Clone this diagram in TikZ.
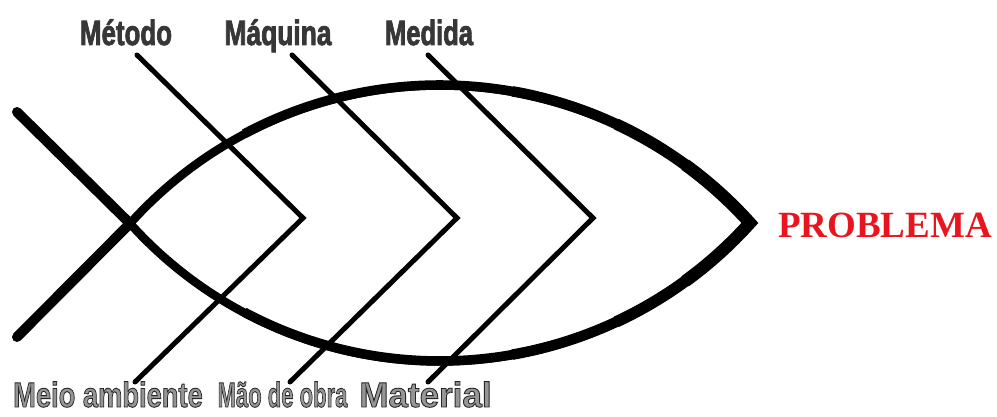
\documentclass[tikz,border=0pt]{standalone}
\usepackage{fontspec}
\usepackage{graphicx}
\newfontfamily\labfont{Liberation Sans}
\newfontfamily\probfont{Liberation Serif}
\definecolor{toplabcol}{RGB}{55,55,55}
\definecolor{botlabcol}{RGB}{150,150,150}
\definecolor{probred}{RGB}{232,20,30}
\newcommand{\hollow}[1]{\special{pdf:literal direct 0.15 G 0.9 w 2 Tr}#1\special{pdf:literal direct 0 Tr}}
\newcommand{\heavy}[1]{\special{pdf:literal direct 0.216 G 0.9 w 2 Tr}#1\special{pdf:literal direct 0 Tr}}
\tikzset{
  fishline/.style={line width=10pt, line cap=round, line join=miter},
  bodyline/.style={line width=#1, line cap=butt, line join=miter},
  boneline/.style={line width=5pt, line cap=round, line join=miter},
  toplab/.style={anchor=base, inner sep=0pt, text=toplabcol,
    font=\labfont\bfseries\fontsize{35}{35}\selectfont},
  botlab/.style={anchor=base, inner sep=0pt, text=botlabcol,
    font=\labfont\bfseries\fontsize{35}{35}\selectfont},
  problab/.style={anchor=base, inner sep=0pt, text=probred,
    font=\probfont\bfseries\fontsize{37}{37}\selectfont}
}
\begin{document}
\begin{tikzpicture}[x=1pt,y=1pt]
\useasboundingbox (0,0) rectangle (997,417);
% fish
\coordinate (tail) at (130,193.5);
\coordinate (nose) at (750,193.5);
\coordinate (ctr) at (440,-85);
\coordinate (tailA) at (17,305);
\coordinate (tailB) at (17,80);
\draw[fishline] (tailA) -- (tail);
\draw[fishline] (tailB) -- (tail);
\draw[bodyline=8.5pt] (tail) arc[start angle=138, end angle=42, radius=417]
  arc[start angle=318, end angle=222, radius=417];
\draw[bodyline=9.5pt] (ctr) ++(118:417) arc[start angle=118, end angle=42, radius=417]
  arc[start angle=318, end angle=242, radius=417];
\draw[bodyline=10.5pt] (ctr) ++(80:417) arc[start angle=80, end angle=42, radius=417]
  arc[start angle=318, end angle=280, radius=417];
\draw[bodyline=11.5pt] (ctr) ++(65:417) arc[start angle=65, end angle=42, radius=417]
  arc[start angle=318, end angle=295, radius=417];
\draw[bodyline=12.5pt] (ctr) ++(54:417) arc[start angle=54, end angle=42, radius=417]
  arc[start angle=318, end angle=306, radius=417];
% bones
\coordinate (v1) at (303,199);
\coordinate (v2) at (457,199);
\coordinate (v3) at (593,199);
\coordinate (a1) at (137,362);
\coordinate (a2) at (292,362);
\coordinate (a3) at (428,362);
\coordinate (b1) at (135,35);
\coordinate (b2) at (290,35);
\coordinate (b3) at (428,35);
\draw[boneline] (a1) -- (v1) -- (b1);
\draw[boneline] (a2) -- (v2) -- (b2);
\draw[boneline] (a3) -- (v3) -- (b3);
% labels
\node[toplab] (metodo) at (126,372) {\scalebox{0.74}[1]{\heavy{Método}}};
\node[toplab] (maquina) at (278,372) {\scalebox{0.754}[1]{\heavy{Máquina}}};
\node[toplab] (medida) at (429,372) {\scalebox{0.73}[1]{\heavy{Medida}}};
\node[botlab] (meio) at (108,10) {\scalebox{0.78}[1]{\hollow{Meio ambiente}}};
\node[botlab] (mao) at (282.5,10) {\scalebox{0.63}[1]{\hollow{Mão de obra}}};
\node[botlab] (material) at (425.5,10) {\scalebox{1.0}[1]{\hollow{Material}}};
\node[problab] (problema) at (885,179) {PROBLEMA};
\end{tikzpicture}
\end{document}
